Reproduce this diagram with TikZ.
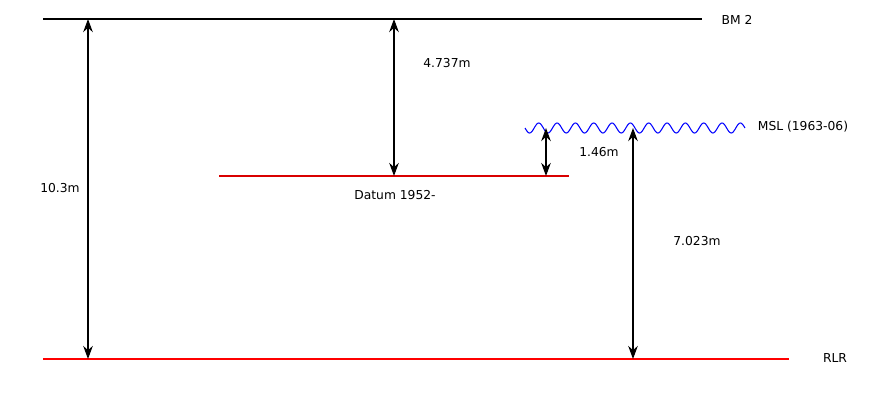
\documentclass[tikz,border=0pt]{standalone}
\usepackage{fontspec}
\setmainfont{DejaVu Sans}
\usetikzlibrary{positioning,arrows.meta}
\usepackage{xcolor}

\begin{document}
\begin{tikzpicture}[
    x=0.02cm,y=-0.02cm,
    level/.style={line width=1.15pt},
    datum/.style={red!85!black,line width=0.6pt},
    msl/.style={blue,line width=0.6pt},
    meas/.style={{Stealth[length=7.5pt,width=5.5pt,inset=2.5pt]}-{Stealth[length=7.5pt,width=5.5pt,inset=2.5pt]},line width=0.6pt},
    lbl/.style={font=\fontsize{7}{8}\selectfont,inner sep=1pt},
]
\useasboundingbox (0,0) rectangle (875,400);
% reference levels
\coordinate (bmL) at (43,19);   \coordinate (bmR) at (702,19);
\coordinate (dtL) at (219,176); \coordinate (dtR) at (569,176);
\coordinate (msL) at (525,128); \coordinate (msR) at (745,128);
\coordinate (rlL) at (43,359);  \coordinate (rlR) at (789,359);
\draw[level] (bmL) -- (bmR);
\draw[datum] (dtL) -- (dtR);
\draw[msl,shift={(msL)}] plot[domain=0:220,samples=241,smooth] (\x,{5*sin(19.64*\x)});
\draw[level,red] (rlL) -- (rlR);
\node[lbl] (bm)  at (737,20)  {BM 2};
\node[lbl] (mslabel) at (803,127) {MSL (1963-06)};
\node[lbl] (rlr) at (835,358) {RLR};
\node[lbl] (datum) at (395,195) {Datum 1952-};
% measured offsets
\coordinate (a1) at (88,19);   \coordinate (a2) at (88,359);
\coordinate (b1) at (394,19);  \coordinate (b2) at (394,176);
\coordinate (c1) at (546,128); \coordinate (c2) at (546,176);
\coordinate (d1) at (633,128); \coordinate (d2) at (633,359);
\draw[meas] (a1) -- (a2);
\draw[meas] (b1) -- (b2);
\draw[meas] (c1) -- (c2);
\draw[meas] (d1) -- (d2);
\node[lbl] (total) at (60,188)  {10.3m};
\node[lbl] (bmdt)  at (447,63)  {4.737m};
\node[lbl] (dtms)  at (599,152) {1.46m};
\node[lbl] (msrl)  at (697,241) {7.023m};
\end{tikzpicture}
\end{document}
